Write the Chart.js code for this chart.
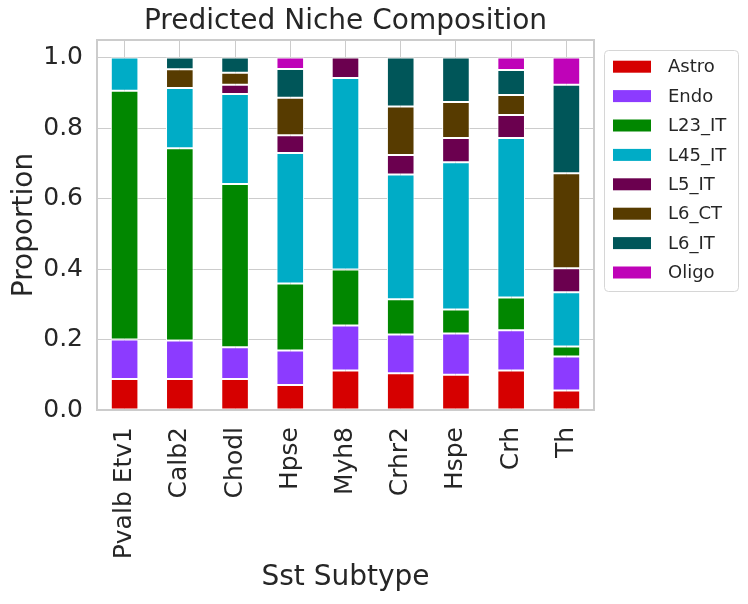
<!DOCTYPE html>
<html>
<head>
<meta charset="utf-8">
<script src="https://cdn.jsdelivr.net/npm/chart.js@4.4.1/dist/chart.umd.min.js"></script>
<style>
  body { margin: 0; background: #fff; }
</style>
</head>
<body>
<canvas id="nicheChart" width="748" height="604"></canvas>
<script>
const subtypes = ['Pvalb Etv1', 'Calb2', 'Chodl', 'Hpse', 'Myh8', 'Crhr2', 'Hspe', 'Crh', 'Th'];
const astro = [0.088, 0.088, 0.088, 0.071, 0.112, 0.104, 0.100, 0.112, 0.055];
const endo  = [0.112, 0.109, 0.090, 0.098, 0.128, 0.110, 0.117, 0.114, 0.097];
const l23IT = [0.706, 0.546, 0.463, 0.190, 0.159, 0.100, 0.068, 0.093, 0.028];
const l45IT = [0.094, 0.171, 0.256, 0.370, 0.543, 0.354, 0.418, 0.453, 0.154];
const l5IT  = [0, 0, 0.026, 0.051, 0.058, 0.056, 0.069, 0.065, 0.068];
const l6CT  = [0, 0.053, 0.034, 0.106, 0, 0.137, 0.102, 0.057, 0.270];
const l6IT  = [0, 0.033, 0.043, 0.082, 0, 0.139, 0.126, 0.071, 0.251];
const oligo = [0, 0, 0, 0.032, 0, 0, 0, 0.035, 0.077];
const yTicks = [0, 0.2, 0.4, 0.6, 0.8, 1.0];

const series = [
    { label: 'Astro', data: astro, color: '#d60000' },
    { label: 'Endo', data: endo, color: '#8c3bff' },
    { label: 'L23_IT', data: l23IT, color: '#018700' },
    { label: 'L45_IT', data: l45IT, color: '#00acc6' },
    { label: 'L5_IT', data: l5IT, color: '#6b004f' },
    { label: 'L6_CT', data: l6CT, color: '#573b00' },
    { label: 'L6_IT', data: l6IT, color: '#005659' },
    { label: 'Oligo', data: oligo, color: '#bf03b8' }
];

const FONT = 'DejaVu Sans';
const TEXT = '#262626';
const GRID = '#cccccc';

// cadre du graphe + légende dessinée à la main (style matplotlib)
const framePlugin = {
    id: 'frame',
    afterDraw(chart) {
        const ctx = chart.ctx;
        const a = chart.chartArea;
        ctx.save();
        ctx.strokeStyle = GRID;
        ctx.lineWidth = 2;
        ctx.strokeRect(a.left, a.top, a.right - a.left, a.bottom - a.top);

        // légende
        const x0 = a.right + 10, y0 = 50.5, w = 134, h = 241;
        ctx.lineWidth = 1;
        ctx.strokeStyle = '#d6d6d6';
        ctx.fillStyle = 'rgba(255,255,255,0.8)';
        ctx.beginPath();
        ctx.roundRect(x0 + 0.5, y0, w, h, 4);
        ctx.fill();
        ctx.stroke();
        ctx.font = '18px "' + FONT + '"';
        ctx.textBaseline = 'middle';
        chart.data.datasets.forEach((ds, i) => {
            const cy = 66.7 + i * 29.4;
            ctx.fillStyle = ds.backgroundColor;
            ctx.fillRect(x0 + 9, cy - 6, 38, 12);
            ctx.fillStyle = TEXT;
            ctx.fillText(ds.label, x0 + 64, cy + 1);
        });
        ctx.restore();
    }
};

const ctx = document.getElementById('nicheChart').getContext('2d');
new Chart(ctx, {
    type: 'bar',
    data: {
        labels: subtypes,
        datasets: series.map(s => ({
            label: s.label,
            data: s.data,
            backgroundColor: s.color,
            borderColor: '#ffffff',
            borderWidth: 1,
            borderSkipped: false,
            barPercentage: 0.5,
            categoryPercentage: 1.0
        }))
    },
    options: {
        responsive: false,
        animation: false,
        layout: { padding: { left: 0, right: 154, top: 0, bottom: 0 } },
        plugins: {
            legend: { display: false },
            tooltip: { enabled: false },
            title: {
                display: true,
                fullSize: false,
                text: 'Predicted Niche Composition',
                color: TEXT,
                font: { family: FONT, size: 28, weight: 'normal' },
                padding: { top: 5, bottom: 1.4 }
            }
        },
        scales: {
            x: {
                stacked: true,
                afterFit: scale => { scale.height = 194; },
                grid: { color: GRID, lineWidth: 1, offset: false, drawTicks: false },
                border: { color: GRID, width: 2 },
                ticks: {
                    color: TEXT,
                    font: { family: FONT, size: 25 },
                    minRotation: 90,
                    maxRotation: 90,
                    padding: 17,
                    autoSkip: false
                },
                title: {
                    display: true,
                    text: 'Sst Subtype',
                    color: TEXT,
                    font: { family: FONT, size: 28 },
                    padding: { top: 0, bottom: 9 }
                }
            },
            y: {
                stacked: true,
                min: 0,
                max: 1.05,
                afterFit: scale => { scale.width = 97; },
                afterBuildTicks: scale => {
                    scale.ticks = yTicks.map(v => ({ value: v }));
                },
                grid: { color: GRID, lineWidth: 1, drawTicks: false },
                border: { color: GRID, width: 2 },
                ticks: {
                    color: TEXT,
                    font: { family: FONT, size: 25 },
                    padding: 14,
                    callback: value => value.toFixed(1)
                },
                title: {
                    display: true,
                    text: 'Proportion',
                    color: TEXT,
                    font: { family: FONT, size: 28 },
                    padding: { top: 8, bottom: 0 }
                }
            }
        }
    },
    plugins: [framePlugin]
});
</script>
</body>
</html>
